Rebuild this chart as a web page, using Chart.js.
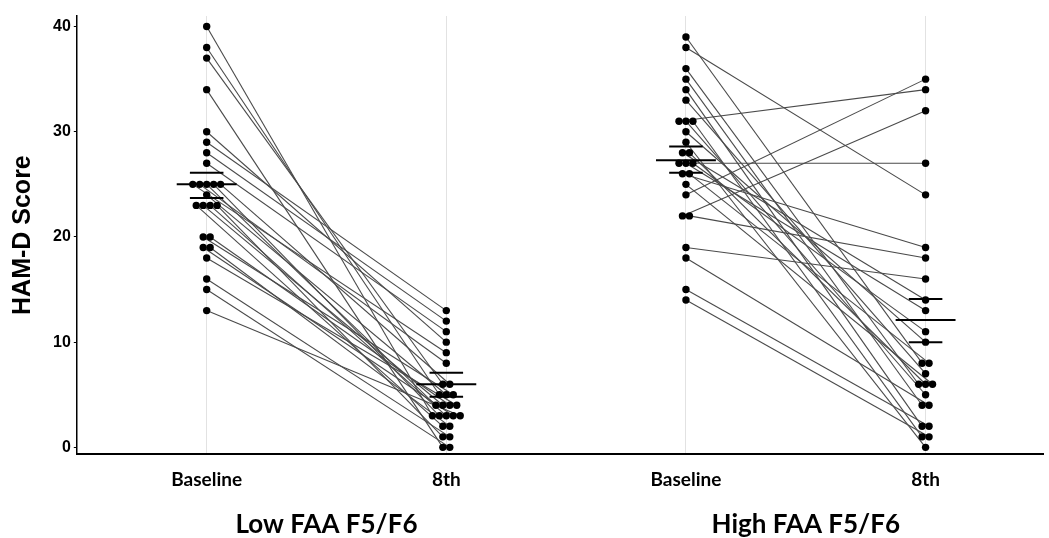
<!DOCTYPE html>
<html>
<head>
<meta charset="utf-8">
<script src="https://cdn.jsdelivr.net/npm/chart.js@4.4.0/dist/chart.umd.min.js"></script>
<style>
  html, body { margin: 0; padding: 0; background: #fff; }
  #wrap { width: 1049px; height: 538px; }
</style>
</head>
<body>
<div id="wrap"><canvas id="chart"></canvas></div>
<script>
// HAM-D scores, same index = same patient (Baseline -> 8th week)
const timeLabels = ["Baseline", "8th", "Baseline", "8th"];
const groupLabels = ["Low FAA F5/F6", "High FAA F5/F6"];
const yTicks = [0, 10, 20, 30, 40];

const lowBaseline = [40, 38, 37, 34, 30, 29, 28, 27, 25, 25, 25, 25, 25, 24, 23, 23, 23, 23, 20, 20, 19, 19, 18, 16, 15, 13];
const lowWeek8    = [3, 5, 6, 0, 10, 13, 12, 11, 9, 8, 4, 3, 6, 5, 2, 4, 3, 1, 5, 4, 3, 2, 4, 1, 0, 3];

const highBaseline = [39, 38, 36, 35, 34, 33, 31, 31, 31, 30, 29, 28, 28, 27, 27, 27, 26, 26, 25, 24, 22, 22, 19, 18, 15, 14];
const highWeek8    = [8, 24, 6, 4, 2, 7, 34, 5, 1, 10, 0, 14, 6, 27, 13, 11, 19, 8, 6, 35, 32, 18, 16, 4, 2, 1];

// mean and +/- SE bars as drawn in the figure
const meanValues = [25, 6, 27.3, 12.1];
const seUpper = [26.1, 7.1, 28.6, 14.1];
const seLower = [23.7, 4.8, 26.1, 10.0];

const DOT_STEP = 0.029;   // horizontal gap between tied dots (x units)
const MEAN_HALF = 0.125;
const SE_HALF = 0.07;

// spread tied values side by side like a dot plot
const spread = (values, pos) => {
  const counts = {};
  const seen = {};
  values.forEach((v) => (counts[v] = (counts[v] || 0) + 1));
  return values.map((v) => {
    seen[v] = seen[v] === undefined ? 0 : seen[v] + 1;
    return { x: pos + (seen[v] - (counts[v] - 1) / 2) * DOT_STEP, y: v };
  });
};

const columns = [
  spread(lowBaseline, 1),
  spread(lowWeek8, 2),
  spread(highBaseline, 3),
  spread(highWeek8, 4),
];

const datasets = [];

// dots on top
columns.forEach((pts) => {
  datasets.push({
    data: pts,
    pointRadius: 3.7,
    pointBackgroundColor: "#000",
    pointBorderWidth: 0,
    showLine: false,
    order: 0,
  });
});

// mean and SE bars
meanValues.forEach((m, i) => {
  const c = i + 1;
  [
    [m, MEAN_HALF],
    [seUpper[i], SE_HALF],
    [seLower[i], SE_HALF],
  ].forEach(([y, half]) => {
    datasets.push({
      data: [{ x: c - half, y: y }, { x: c + half, y: y }],
      showLine: true,
      borderColor: "#000",
      borderWidth: 2,
      pointRadius: 0,
      order: 1,
    });
  });
});

// patient lines
const addPairs = (a, b) => {
  a.forEach((p, i) => {
    datasets.push({
      data: [p, b[i]],
      showLine: true,
      borderColor: "#4a4a4a",
      borderWidth: 1.1,
      pointRadius: 0,
      order: 2,
    });
  });
};
addPairs(columns[0], columns[1]);
addPairs(columns[2], columns[3]);

const groupLabelPlugin = {
  id: "groupLabels",
  afterDraw(chart) {
    const { ctx, scales } = chart;
    ctx.save();
    ctx.fillStyle = "#000";
    ctx.font = "bold 26px Lato";
    ctx.textAlign = "center";
    ctx.textBaseline = "middle";
    ctx.fillText(groupLabels[0], scales.x.getPixelForValue(1.5), 525);
    ctx.fillText(groupLabels[1], scales.x.getPixelForValue(3.5), 525);
    ctx.restore();
  },
};

new Chart(document.getElementById("chart"), {
  type: "scatter",
  data: { datasets },
  options: {
    responsive: true,
    maintainAspectRatio: false,
    animation: false,
    layout: { padding: { top: 16, right: 6, bottom: 33, left: 8 } },
    plugins: { legend: { display: false }, tooltip: { enabled: false } },
    scales: {
      x: {
        type: "linear",
        min: 0.458,
        max: 4.49,
        afterBuildTicks: (scale) => {
          scale.ticks = [1, 2, 3, 4].map((v) => ({ value: v }));
        },
        ticks: {
          callback: (v) => timeLabels[v - 1],
          color: "#000",
          font: { family: "Lato", size: 19, weight: "bold" },
          padding: 14,
          maxRotation: 0,
        },
        grid: { color: "#e2e2e2", lineWidth: 1, drawTicks: false },
        border: { display: true, color: "#000", width: 2 },
      },
      y: {
        min: -0.65,
        max: 41,
        afterBuildTicks: (scale) => {
          scale.ticks = yTicks.map((v) => ({ value: v }));
        },
        ticks: {
          color: "#000",
          font: { family: "Liberation Sans", size: 16, weight: "bold" },
          padding: 3,
        },
        grid: { display: true, drawOnChartArea: false, drawTicks: true, tickLength: 3, color: "#000" },
        border: { display: true, color: "#000", width: 1.5 },
        title: {
          display: true,
          text: "HAM-D Score",
          color: "#000",
          font: { family: "Liberation Sans", size: 25, weight: "bold" },
          padding: { top: 0, bottom: 12 },
        },
      },
    },
  },
  plugins: [groupLabelPlugin],
});
</script>
</body>
</html>
